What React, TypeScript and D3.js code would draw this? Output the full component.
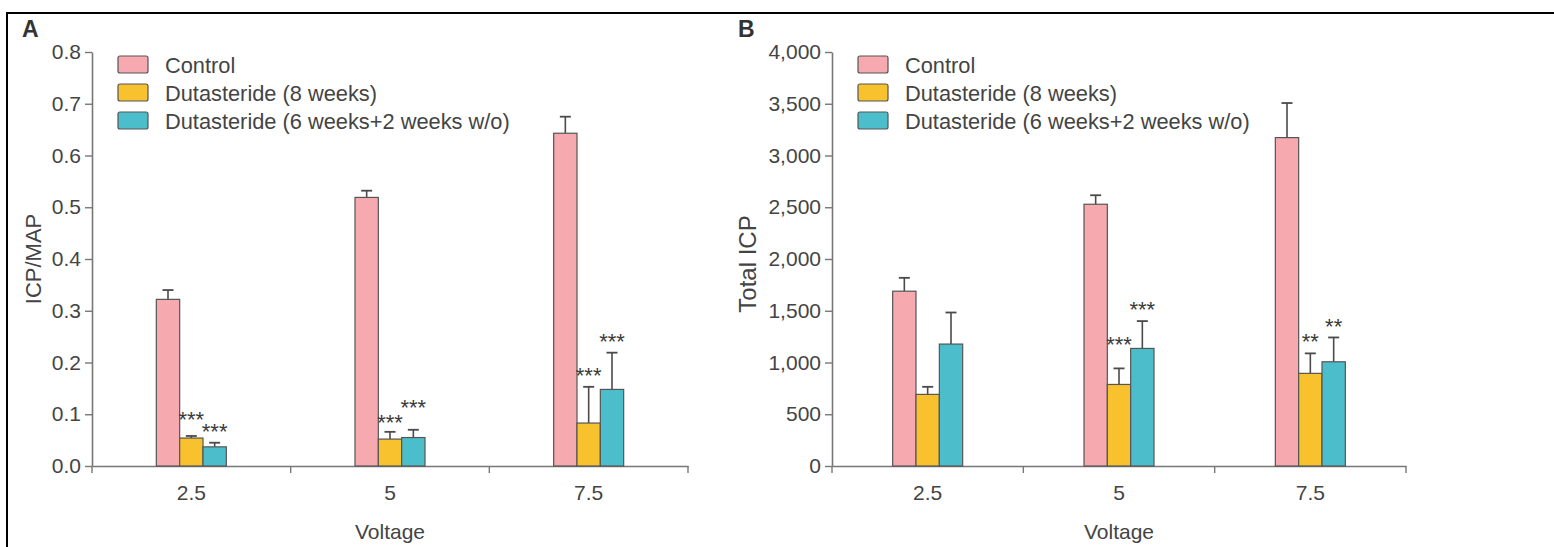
import React, { useRef, useEffect } from 'react';
import * as d3 from 'd3';

// categories and groups
const voltages = ["2.5", "5", "7.5"];
const groups = ["Control", "Dutasteride (8 weeks)", "Dutasteride (6 weeks+2 weeks w/o)"];
const colors = ["#f6a9af", "#f8c22f", "#4cbecb"];

// panel A: ICP/MAP, one row per group, one value per voltage
const ratioMean = [
    [0.322, 0.519, 0.643],
    [0.054, 0.052, 0.083],
    [0.037, 0.055, 0.148],
];
const ratioErr = [
    [0.018, 0.013, 0.032],
    [0.004, 0.014, 0.070],
    [0.008, 0.015, 0.071],
];
const ratioStars = [
    ["", "", ""],
    ["***", "***", "***"],
    ["***", "***", "***"],
];
const ratioStarLevel = [
    [0, 0, 0],
    [0.0985, 0.093, 0.184],
    [0.076, 0.122, 0.249],
];
const ratioTicks = [0, 0.1, 0.2, 0.3, 0.4, 0.5, 0.6, 0.7, 0.8];

// panel B: total ICP
const totalMean = [
    [1689, 2529, 3173],
    [692, 788, 895],
    [1178, 1136, 1007],
];
const totalErr = [
    [129, 87, 334],
    [73, 155, 193],
    [305, 264, 235],
];
const totalStars = [
    ["", "", ""],
    ["", "***", "**"],
    ["", "***", "**"],
];
const totalStarLevel = [
    [0, 0, 0],
    [0, 1216, 1245],
    [0, 1554, 1393],
];
const totalTicks = [0, 500, 1000, 1500, 2000, 2500, 3000, 3500, 4000];

const FONT = "'Liberation Sans', Arial, Helvetica, sans-serif";
const TEXT = "#444";
const AXIS = "#777";

function drawPanel(svg, o) {
    var top = 52, bottom = 466;
    var x = d3.scaleBand().domain(voltages).range([o.left, o.right]);
    var y = d3.scaleLinear().domain([0, o.yMax]).range([bottom, top]);
    var inner = d3.scaleBand().domain(groups).range([-35, 35]);

    var g = svg.append("g");

    // y axis
    var ya = g.append("g")
        .attr("transform", "translate(" + o.left + ",0)")
        .call(d3.axisLeft(y).tickValues(o.ticks).tickFormat(o.format).tickSize(7).tickSizeOuter(0).tickPadding(4));
    ya.select(".domain").attr("stroke", AXIS).attr("stroke-width", 1.6);
    ya.selectAll(".tick line").attr("stroke", AXIS).attr("stroke-width", 1.4);
    ya.selectAll(".tick text").attr("fill", TEXT).attr("font-size", 21).attr("font-family", FONT);

    // x axis
    var xa = g.append("g")
        .attr("transform", "translate(0," + bottom + ")")
        .call(d3.axisBottom(x).tickSize(0).tickPadding(19));
    xa.select(".domain").attr("stroke", AXIS).attr("stroke-width", 1.6);
    xa.selectAll(".tick text").attr("fill", TEXT).attr("font-size", 21).attr("font-family", FONT);
    var edges = voltages.map(function (v) { return x(v); }).concat([o.right]);
    xa.selectAll(".edge").data(edges).enter().append("line")
        .attr("x1", function (d) { return d; }).attr("x2", function (d) { return d; })
        .attr("y1", 0).attr("y2", 7)
        .attr("stroke", AXIS).attr("stroke-width", 1.4);

    // bars, error bars, stars
    groups.forEach(function (grp, gi) {
        voltages.forEach(function (v, vi) {
            var cx = x(v) + x.bandwidth() / 2 + inner(grp);
            var w = inner.bandwidth();
            var val = o.mean[gi][vi];
            var hi = val + o.err[gi][vi];
            g.append("line")
                .attr("x1", cx + w / 2).attr("x2", cx + w / 2)
                .attr("y1", y(val)).attr("y2", y(hi))
                .attr("stroke", "#4a4a4a").attr("stroke-width", 1.6);
            g.append("line")
                .attr("x1", cx + w / 2 - 5.5).attr("x2", cx + w / 2 + 5.5)
                .attr("y1", y(hi)).attr("y2", y(hi))
                .attr("stroke", "#4a4a4a").attr("stroke-width", 1.8);
            g.append("rect")
                .attr("x", cx).attr("y", y(val))
                .attr("width", w).attr("height", bottom - y(val))
                .attr("fill", colors[gi])
                .attr("stroke", "#555").attr("stroke-width", 1.2);
            if (o.stars[gi][vi]) {
                g.append("text")
                    .attr("x", cx + w / 2)
                    .attr("y", y(o.starLevel[gi][vi]) + 12)
                    .attr("text-anchor", "middle")
                    .attr("font-size", 22).attr("font-family", FONT)
                    .attr("fill", "#3a3a3a")
                    .text(o.stars[gi][vi]);
            }
        });
    });

    // legend
    groups.forEach(function (grp, gi) {
        g.append("rect")
            .attr("x", o.legendX).attr("y", 56 + gi * 28)
            .attr("width", 30).attr("height", 17).attr("rx", 2)
            .attr("fill", colors[gi]).attr("stroke", "#555").attr("stroke-width", 1.2);
        g.append("text")
            .attr("x", o.legendX + 47).attr("y", 73 + gi * 28)
            .attr("font-size", 21.8).attr("font-family", FONT).attr("fill", TEXT)
            .text(grp);
    });

    // titles
    g.append("text")
        .attr("transform", "translate(" + o.titleX + "," + o.titleY + ") rotate(-90)")
        .attr("text-anchor", "middle")
        .attr("font-size", o.titleSize).attr("font-family", FONT).attr("fill", TEXT)
        .text(o.title);
    g.append("text")
        .attr("x", (o.left + o.right) / 2).attr("y", 539)
        .attr("text-anchor", "middle")
        .attr("font-size", 21).attr("font-family", FONT).attr("fill", TEXT)
        .text("Voltage");
    g.append("text")
        .attr("x", o.letterX).attr("y", 37)
        .attr("font-size", 23).attr("font-weight", "bold").attr("font-family", FONT).attr("fill", "#333")
        .text(o.letter);
}

function App() {
    const ref = useRef(null);
    useEffect(() => {
        var svg = d3.select(ref.current);
        svg.selectAll("*").remove();

        // frame
        svg.append("line").attr("x1", 6).attr("x2", 1554).attr("y1", 13).attr("y2", 13)
            .attr("stroke", "#000").attr("stroke-width", 2);
        svg.append("line").attr("x1", 7).attr("x2", 7).attr("y1", 12).attr("y2", 547)
            .attr("stroke", "#000").attr("stroke-width", 2);

        drawPanel(svg, {
            left: 92, right: 688, yMax: 0.8, ticks: ratioTicks, format: d3.format(".1f"),
            mean: ratioMean, err: ratioErr, stars: ratioStars, starLevel: ratioStarLevel,
            title: "ICP/MAP", titleX: 41, titleY: 259, titleSize: 22,
            letter: "A", letterX: 22, legendX: 118,
        });
        drawPanel(svg, {
            left: 832, right: 1406, yMax: 4000, ticks: totalTicks, format: d3.format(","),
            mean: totalMean, err: totalErr, stars: totalStars, starLevel: totalStarLevel,
            title: "Total ICP", titleX: 756, titleY: 264, titleSize: 24,
            letter: "B", letterX: 738, legendX: 858,
        });
    }, []);
    return (
        <svg ref={ref} width="1554" height="547"
            style={{ position: "absolute", left: 0, top: 0, background: "#fff" }}></svg>
    );
}

export default App;
